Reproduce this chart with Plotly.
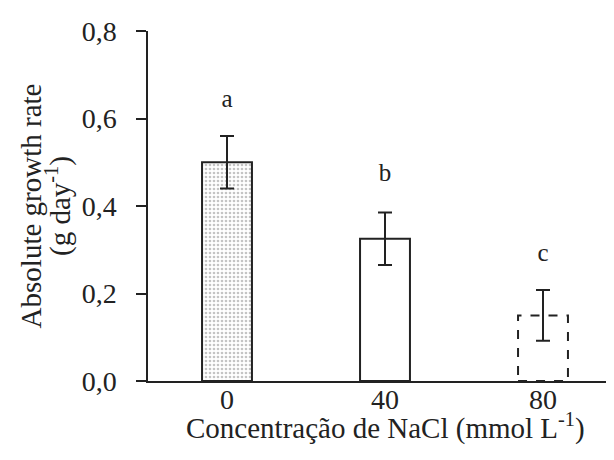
import plotly.graph_objects as go

categories = ["0", "40", "80"]
values = [0.50, 0.325, 0.15]
errors = [0.06, 0.06, 0.058]
letters = ["a", "b", "c"]
letter_y = [0.64, 0.472, 0.288]
y_ticks = [0.0, 0.2, 0.4, 0.6, 0.8]
y_tick_labels = ["0,0", "0,2", "0,4", "0,6", "0,8"]

FONT = "Liberation Serif"
INK = "#222222"

fig = go.Figure()

styles = [
    dict(color="white", line=dict(color=INK, width=2),
         pattern=dict(shape=".", fgcolor="#8a8a8a", bgcolor="white", size=4, solidity=0.35)),
    dict(color="white", line=dict(color=INK, width=2)),
    dict(color="white", line=dict(color=INK, width=0)),
]

for i, (c, v, e) in enumerate(zip(categories, values, errors)):
    fig.add_trace(go.Bar(
        x=[i], y=[v], width=0.316,
        marker=styles[i],
        error_y=dict(type="data", array=[e], color=INK, thickness=2, width=7, visible=True),
        showlegend=False,
    ))

# dashed outline for the third bar
fig.add_shape(type="rect", xref="x", yref="y",
              x0=2 - 0.158, x1=2 + 0.158, y0=0, y1=values[2],
              line=dict(color=INK, width=2, dash="dash"), layer="above")

fig.add_trace(go.Scatter(
    x=[0, 1, 2], y=letter_y,
    text=letters, mode="text", textfont=dict(family=FONT, size=25, color=INK),
    showlegend=False, hoverinfo="skip",
))

fig.add_annotation(text="Concentração de NaCl (mmol L<sup>-1</sup>)", xref="paper", yref="paper",
                   x=0.5, y=-0.13, xanchor="center", yanchor="middle", showarrow=False,
                   font=dict(family=FONT, size=29, color=INK))
fig.add_annotation(text="Absolute growth rate", xref="paper", yref="paper",
                   x=-0.246, y=0.5, xanchor="center", yanchor="middle", showarrow=False, textangle=-90,
                   font=dict(family=FONT, size=29, color=INK))
fig.add_annotation(text="(g day<sup>-1</sup>)", xref="paper", yref="paper",
                   x=-0.19, y=0.5, xanchor="center", yanchor="middle", showarrow=False, textangle=-90,
                   font=dict(family=FONT, size=29, color=INK))

fig.update_layout(
    width=614, height=460,
    margin=dict(l=140, r=0, t=23, b=87),
    plot_bgcolor="white", paper_bgcolor="white",
    font=dict(family=FONT, color=INK),
)
fig.update_xaxes(
    range=[-0.5, 2.5], tickvals=[0, 1, 2], ticktext=categories,
    showline=True, linecolor=INK, linewidth=2, ticks="", showgrid=False, zeroline=False,
    tickfont=dict(family=FONT, size=28, color=INK), ticklabelstandoff=-8,
)
fig.update_yaxes(
    range=[0, 0.8], tickvals=y_ticks, ticktext=y_tick_labels,
    showline=True, linecolor=INK, linewidth=1.5, ticks="outside", ticklen=10, tickwidth=1.5, tickcolor=INK,
    showgrid=False, zeroline=False,
    tickfont=dict(family=FONT, size=28, color=INK), ticklabelstandoff=14,
)

fig.write_html("out.html")
